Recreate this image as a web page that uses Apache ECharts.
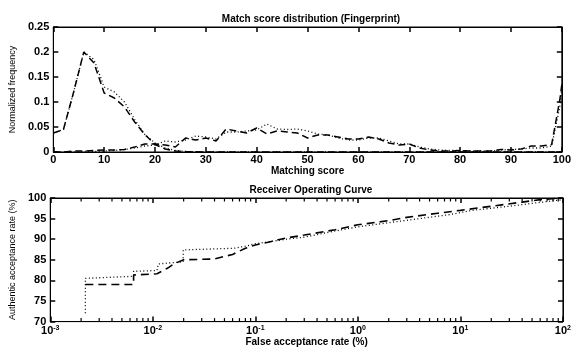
<!DOCTYPE html>
<html>
<head>
<meta charset="utf-8">
<script src="https://cdn.jsdelivr.net/npm/echarts@6/dist/echarts.min.js"></script>
<style>
  html, body { margin: 0; padding: 0; background: #fff; }
  #main { width: 574px; height: 348px; }
</style>
</head>
<body>
<div id="main"></div>
<script>
// score distribution (top panel)
var impScore = [0, 2, 4, 6, 8, 10, 12, 14, 16, 18, 20, 22, 24, 26, 30, 40, 60, 80, 100];
var impDash = [0.038, 0.045, 0.12, 0.2, 0.178, 0.118, 0.108, 0.09, 0.06, 0.035, 0.015, 0.006, 0.002, 0.001, 0, 0, 0, 0, 0];
var impDot = [0.038, 0.045, 0.12, 0.2, 0.185, 0.13, 0.12, 0.1, 0.065, 0.035, 0.018, 0.008, 0.003, 0.001, 0, 0, 0, 0, 0];

var genScore = [0, 2, 4, 6, 8, 10, 12, 14, 16, 18, 20, 22, 24, 26, 28, 30, 32, 34, 36, 38, 40,
  42, 44, 46, 48, 50, 52, 54, 56, 58, 60, 62, 64, 66, 68, 70, 72, 74, 76, 78, 80,
  82, 84, 86, 88, 90, 92, 94, 96, 98, 99.6, 100];
var genDash = [0, 0, 0.002, 0.002, 0.003, 0.004, 0.004, 0.005, 0.01, 0.016, 0.016, 0.014, 0.01, 0.028, 0.024, 0.028, 0.022, 0.046, 0.042, 0.038, 0.048,
  0.036, 0.042, 0.04, 0.038, 0.028, 0.034, 0.034, 0.03, 0.026, 0.026, 0.03, 0.026, 0.018, 0.014, 0.016, 0.008, 0.004, 0.002, 0.002, 0.003,
  0.002, 0.002, 0.002, 0.005, 0.004, 0.006, 0.012, 0.012, 0.015, 0.104, 0.135];
var genDot = [0, 0, 0, 0.001, 0.001, 0.002, 0.003, 0.005, 0.008, 0.012, 0.014, 0.022, 0.02, 0.024, 0.032, 0.03, 0.026, 0.04, 0.04, 0.042, 0.044,
  0.056, 0.046, 0.045, 0.046, 0.042, 0.036, 0.034, 0.028, 0.024, 0.024, 0.028, 0.028, 0.022, 0.016, 0.016, 0.01, 0.006, 0.004, 0.003, 0.003,
  0.002, 0.002, 0.002, 0.004, 0.005, 0.006, 0.008, 0.008, 0.012, 0.09, 0.13];

// ROC (bottom panel)
var rocFarDash = [0.0022, 0.0065, 0.0065, 0.011, 0.011, 0.014, 0.016, 0.02, 0.04, 0.06, 0.08, 0.1, 0.13, 0.2, 0.3, 0.6, 1, 2, 3, 6, 10, 20, 40, 60, 100];
var rocGarDash = [79, 79, 81.3, 81.6, 82, 83, 84, 85, 85.2, 86.3, 87.8, 88.6, 89.2, 90.3, 91, 92.3, 93.5, 94.5, 95.3, 96.3, 97, 98, 99, 99.6, 100];
var rocFarDot = [0.0022, 0.0022, 0.0065, 0.0065, 0.011, 0.0113, 0.0198, 0.0198, 0.062, 0.08, 0.1, 0.2, 0.3, 0.6, 1, 2, 4, 8, 13, 30, 50, 100];
var rocGarDot = [72, 80.5, 81, 82.2, 82.4, 84, 84.5, 87.4, 87.8, 88.3, 88.9, 90, 90.5, 92, 93, 94, 95, 96, 97, 98, 98.7, 99.6];

// minor log ticks: 2..9 x each decade
var decades = [0.001, 0.01, 0.1, 1, 10];
var minorTicks = [];
decades.forEach(function (d) {
  for (var k = 2; k <= 9; k++) minorTicks.push(+(d * k).toPrecision(3));
});

function pairs(xs, ys) {
  return xs.map(function (x, i) { return [x, ys[i]]; });
}

var FONT = 'Liberation Sans';
var black = '#000';
var lblStyle = { color: black, fontFamily: FONT, fontWeight: 'bold', fontSize: 11 };
var tick = { show: true, inside: true, length: 5, lineStyle: { color: black, width: 1.5 } };

var chart = echarts.init(document.getElementById('main'));

// small tick marks at bottom and top edges of the ROC frame
function renderMinorTick(params, api) {
  var lo = api.coord([api.value(0), 70]);
  var hi = api.coord([api.value(0), 100]);
  var len = 3.5;
  var st = { stroke: black, lineWidth: 1.2, fill: null };
  return {
    type: 'group',
    children: [
      { type: 'line', shape: { x1: lo[0], y1: lo[1], x2: lo[0], y2: lo[1] - len }, style: st },
      { type: 'line', shape: { x1: hi[0], y1: hi[1], x2: hi[0], y2: hi[1] + len }, style: st }
    ]
  };
}

var option = {
  animation: false,
  backgroundColor: '#fff',
  title: [{
    text: 'Match score distribution (Fingerprint)',
    left: 306, top: 9, textAlign: 'center',
    textStyle: { fontFamily: FONT, fontSize: 10, fontWeight: 'bold', color: black }
  }, {
    text: 'Receiver Operating Curve',
    left: 306, top: 180, textAlign: 'center',
    textStyle: { fontFamily: FONT, fontSize: 10, fontWeight: 'bold', color: black }
  }],
  grid: [
    { left: 48, right: 9, top: 27, height: 125, show: true, borderColor: black, borderWidth: 1 },
    { left: 48, right: 9, top: 198, height: 126, show: true, borderColor: black, borderWidth: 1 }
  ],
  xAxis: [{
    gridIndex: 0, type: 'value', min: 0, max: 100, interval: 10,
    name: 'Matching score', nameLocation: 'middle', nameGap: 11,
    nameTextStyle: { fontFamily: FONT, fontSize: 10, fontWeight: 'bold', color: black },
    axisLine: { show: true, onZero: false, lineStyle: { color: black } },
    axisTick: tick,
    axisLabel: Object.assign({ margin: 2 }, lblStyle),
    splitLine: { show: false }
  }, {
    gridIndex: 0, type: 'value', min: 0, max: 100, interval: 10, position: 'top',
    axisLine: { show: true, onZero: false, lineStyle: { color: black } },
    axisTick: tick,
    axisLabel: { show: false }, splitLine: { show: false }
  }, {
    gridIndex: 1, type: 'log', logBase: 10, min: 0.001, max: 100,
    name: 'False acceptance rate (%)', nameLocation: 'middle', nameGap: 15,
    nameTextStyle: { fontFamily: FONT, fontSize: 10, fontWeight: 'bold', color: black },
    axisLine: { show: true, onZero: false, lineStyle: { color: black } },
    axisTick: tick,
    axisLabel: {
      margin: 3, color: black, fontFamily: FONT, fontWeight: 'bold', fontSize: 11,
      formatter: function (v) {
        var e = Math.round(Math.log10(v));
        return '{b|10}{s|' + e + '}';
      },
      rich: {
        b: { fontFamily: FONT, fontWeight: 'bold', fontSize: 11, color: black },
        s: { fontFamily: FONT, fontWeight: 'bold', fontSize: 7, color: black, verticalAlign: 'top', padding: [0, 0, 5, 0] }
      }
    },
    splitLine: { show: false }
  }, {
    gridIndex: 1, type: 'log', logBase: 10, min: 0.001, max: 100, position: 'top',
    axisLine: { show: true, onZero: false, lineStyle: { color: black } },
    axisTick: tick,
    axisLabel: { show: false }, splitLine: { show: false }
  }],
  yAxis: [{
    gridIndex: 0, type: 'value', min: 0, max: 0.25, interval: 0.05,
    name: 'Normalized frequency', nameLocation: 'middle', nameGap: 33,
    nameTextStyle: { fontFamily: FONT, fontSize: 9, color: black },
    axisLine: { show: true, onZero: false, lineStyle: { color: black } },
    axisTick: tick,
    axisLabel: Object.assign({ margin: 4 }, lblStyle),
    splitLine: { show: false }
  }, {
    gridIndex: 0, type: 'value', min: 0, max: 0.25, interval: 0.05, position: 'right',
    axisLine: { show: true, onZero: false, lineStyle: { color: black } },
    axisTick: tick,
    axisLabel: { show: false }, splitLine: { show: false }
  }, {
    gridIndex: 1, type: 'value', min: 70, max: 100, interval: 5,
    name: 'Authentic acceptance rate (%)', nameLocation: 'middle', nameGap: 28,
    nameTextStyle: { fontFamily: FONT, fontSize: 9, color: black },
    axisLine: { show: true, onZero: false, lineStyle: { color: black } },
    axisTick: tick,
    axisLabel: Object.assign({ margin: 4 }, lblStyle),
    splitLine: { show: false }
  }, {
    gridIndex: 1, type: 'value', min: 70, max: 100, interval: 5, position: 'right',
    axisLine: { show: true, onZero: false, lineStyle: { color: black } },
    axisTick: tick,
    axisLabel: { show: false }, splitLine: { show: false }
  }],
  series: [{
    type: 'line', xAxisIndex: 0, yAxisIndex: 0, symbol: 'none',
    data: pairs(impScore, impDot),
    lineStyle: { color: black, width: 1.3, type: [1, 2.5] }
  }, {
    type: 'line', xAxisIndex: 0, yAxisIndex: 0, symbol: 'none',
    data: pairs(impScore, impDash),
    lineStyle: { color: black, width: 1.5, type: [7, 4] }
  }, {
    type: 'line', xAxisIndex: 0, yAxisIndex: 0, symbol: 'none',
    data: pairs(genScore, genDot),
    lineStyle: { color: black, width: 1.3, type: [1, 2.5] }
  }, {
    type: 'line', xAxisIndex: 0, yAxisIndex: 0, symbol: 'none',
    data: pairs(genScore, genDash),
    lineStyle: { color: black, width: 1.5, type: [7, 4] }
  }, {
    type: 'line', xAxisIndex: 2, yAxisIndex: 2, symbol: 'none',
    data: pairs(rocFarDot, rocGarDot),
    lineStyle: { color: black, width: 1.3, type: [1, 2.5] }
  }, {
    type: 'line', xAxisIndex: 2, yAxisIndex: 2, symbol: 'none',
    data: pairs(rocFarDash, rocGarDash),
    lineStyle: { color: black, width: 1.6, type: [8, 5] }
  }, {
    type: 'custom', xAxisIndex: 2, yAxisIndex: 2, silent: true, clip: false,
    renderItem: renderMinorTick,
    data: minorTicks.map(function (v) { return [v, 70]; })
  }]
};

chart.setOption(option);
</script>
</body>
</html>
